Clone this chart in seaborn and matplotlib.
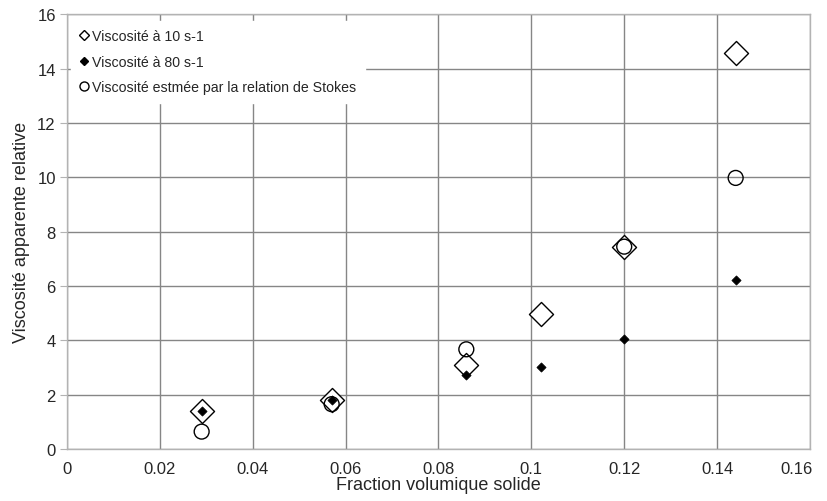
import matplotlib
matplotlib.use("Agg")
import matplotlib.pyplot as plt
import matplotlib.transforms as mtransforms
from matplotlib.lines import Line2D
import seaborn as sns

# --- données ---
frac_10 = [0.029, 0.057, 0.086, 0.102, 0.120, 0.144]
visc_10 = [1.39, 1.80, 3.10, 4.97, 7.45, 14.57]

frac_80 = [0.029, 0.057, 0.086, 0.102, 0.120, 0.144]
visc_80 = [1.39, 1.80, 2.72, 3.03, 4.05, 6.22]

frac_stokes = [0.029, 0.057, 0.086, 0.120, 0.144]
visc_stokes = [0.64, 1.65, 3.67, 7.45, 9.98]

x_ticks = [0, 0.02, 0.04, 0.06, 0.08, 0.1, 0.12, 0.14, 0.16]
x_tick_labels = ['0', '0.02', '0.04', '0.06', '0.08', '0.1', '0.12', '0.14', '0.16']
y_ticks = [0, 2, 4, 6, 8, 10, 12, 14, 16]

lbl_10 = "Viscosité à 10 s-1"
lbl_80 = "Viscosité à 80 s-1"
lbl_stokes = "Viscosité estmée par la relation de Stokes"

sns.set_style("white")
plt.rcParams['font.family'] = ['Liberation Sans', 'DejaVu Sans']

fig = plt.figure(figsize=(8.28, 5.02), dpi=100)
ax = fig.add_axes([0.0809, 0.1036, 0.8973, 0.8657])

sns.scatterplot(x=frac_10, y=visc_10, marker='D', s=150, facecolor='white',
                edgecolor='black', linewidth=1, ax=ax, zorder=3)
sns.scatterplot(x=frac_stokes, y=visc_stokes, marker='o', s=115, facecolor='none',
                edgecolor='black', linewidth=1, ax=ax, zorder=4)
sns.scatterplot(x=frac_80, y=visc_80, marker='D', s=22, color='black',
                edgecolor='black', linewidth=0.5, ax=ax, zorder=5)

ax.set_xlim(0, 0.16)
ax.set_ylim(0, 16)
ax.set_xticks(x_ticks)
ax.set_xticklabels(x_tick_labels)
ax.set_yticks(y_ticks)

ax.grid(True, color='#868686', linewidth=1)
ax.set_axisbelow(True)
for sp in ax.spines.values():
    sp.set_color('#b3b3b3')
    sp.set_linewidth(1)

ax.tick_params(axis='y', left=True, length=5, color='#b3b3b3',
               labelsize=12, pad=3)
ax.tick_params(axis='x', bottom=False, labelsize=12, pad=5)

# Excel décale la dernière étiquette vers la gauche
last = ax.get_xticklabels()[-1]
last.set_transform(last.get_transform() + mtransforms.ScaledTranslation(-0.13, 0, fig.dpi_scale_trans))

ax.set_xlabel("Fraction volumique solide", fontsize=13, labelpad=0)
ax.set_ylabel("Viscosité apparente relative", fontsize=13, labelpad=5)

# légende façon Excel
handles = [
    Line2D([], [], linestyle='none', marker='D', markersize=5, markerfacecolor='white',
           markeredgecolor='black', markeredgewidth=1),
    Line2D([], [], linestyle='none', marker='D', markersize=4.5, markerfacecolor='black',
           markeredgecolor='black'),
    Line2D([], [], linestyle='none', marker='o', markersize=6.5, markerfacecolor='white',
           markeredgecolor='black', markeredgewidth=1),
]
leg = ax.legend(handles, [lbl_10, lbl_80, lbl_stokes], loc='upper left',
                bbox_to_anchor=(0.0, 0.995), frameon=True, fontsize=10.2,
                handlelength=0.6, handletextpad=0.3, labelspacing=0.8,
                borderpad=0.6, borderaxespad=0.3, fancybox=False)
leg.get_frame().set_facecolor('white')
leg.get_frame().set_edgecolor('white')
leg.get_frame().set_alpha(1)
leg.set_zorder(10)

fig.savefig("out.png", dpi=100)
